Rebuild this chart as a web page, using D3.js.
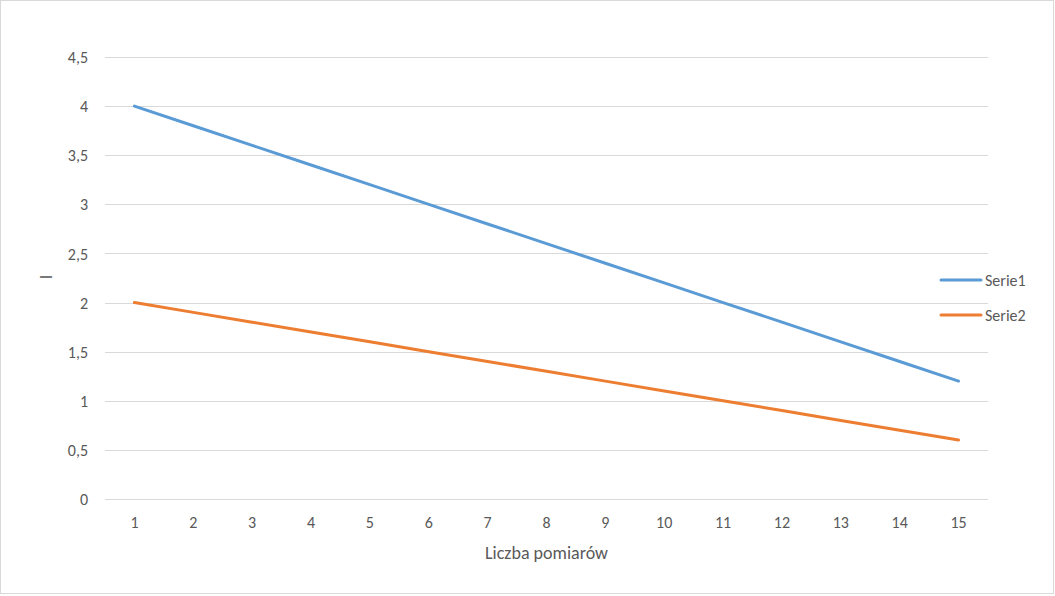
<!DOCTYPE html>
<html><head><meta charset="utf-8">
<script src="https://cdn.jsdelivr.net/npm/d3@7"></script>
<style>
html,body{margin:0;padding:0;background:#fff;}
svg{display:block;}
text{font-family:"Liberation Sans Narrow","Carlito","Open Sans",sans-serif;fill:#595959;}
</style></head>
<body>
<svg id="chart" width="1055" height="596"></svg>
<script>
const categories = [1,2,3,4,5,6,7,8,9,10,11,12,13,14,15];
const serie1 = [4,3.8,3.6,3.4,3.2,3,2.8,2.6,2.4,2.2,2,1.8,1.6,1.4,1.2];
const serie2 = [2,1.9,1.8,1.7,1.6,1.5,1.4,1.3,1.2,1.1,1,0.9,0.8,0.7,0.6];
const seriesNames = ["Serie1","Serie2"];
const seriesColors = ["#5B9BD5","#ED7D31"];
const yTicks = [0,0.5,1,1.5,2,2.5,3,3.5,4,4.5];
const xTitle = "Liczba pomiarów";
const yTitle = "I";

(function(){
const svg = d3.select("#chart");
svg.append("rect").attr("x",0.5).attr("y",0.5).attr("width",1053).attr("height",593)
  .attr("fill","#fff").attr("stroke","#d9d9d9");

const pL=105,pR=988,pT=57,pB=499;
const x = d3.scaleBand().domain(categories).range([pL,pR]);
const y = d3.scaleLinear().domain([0,4.5]).range([pB,pT]);

svg.append("g").selectAll("line").data(yTicks).join("line")
  .attr("x1",pL).attr("x2",pR)
  .attr("y1",d=>Math.round(y(d))+0.5).attr("y2",d=>Math.round(y(d))+0.5)
  .attr("stroke","#d9d9d9").attr("stroke-width",1);

const fmt = d=>String(d).replace(".",",");
const yAxis = svg.append("g").attr("transform",`translate(${pL},0)`)
  .call(d3.axisLeft(y).tickValues(yTicks).tickFormat(fmt).tickSize(0).tickPadding(17));
yAxis.select(".domain").remove();
yAxis.selectAll("text").attr("font-size",16).attr("dy","0.35em").style("fill","#595959")
  .style("font-family","'Liberation Sans Narrow','Carlito',sans-serif");

const xAxis = svg.append("g").attr("transform",`translate(0,${pB})`)
  .call(d3.axisBottom(x).tickSize(0).tickPadding(18));
xAxis.select(".domain").remove();
xAxis.selectAll("text").attr("font-size",16).style("fill","#595959")
  .style("font-family","'Liberation Sans Narrow','Carlito',sans-serif");

svg.append("text").attr("x",(pL+pR)/2).attr("y",559).attr("text-anchor","middle")
  .attr("font-size",18).text(xTitle);
svg.append("text").attr("transform","translate(52,277) rotate(-90)").attr("text-anchor","middle")
  .attr("font-size",18).text(yTitle);

const line = d3.line().x((d,i)=>x(categories[i])+x.bandwidth()/2).y(d=>y(d));
[serie1,serie2].forEach((s,i)=>{
  svg.append("path").datum(s).attr("d",line).attr("fill","none")
    .attr("stroke",seriesColors[i]).attr("stroke-width",3).attr("stroke-linecap","round");
});

seriesNames.forEach((n,i)=>{
  const ly = 280 + i*35;
  svg.append("line").attr("x1",941).attr("x2",981).attr("y1",ly).attr("y2",ly)
    .attr("stroke",seriesColors[i]).attr("stroke-width",3).attr("stroke-linecap","round");
  svg.append("text").attr("x",985).attr("y",ly).attr("dy","0.35em").attr("font-size",16).text(n);
});
})();
</script>
</body></html>
